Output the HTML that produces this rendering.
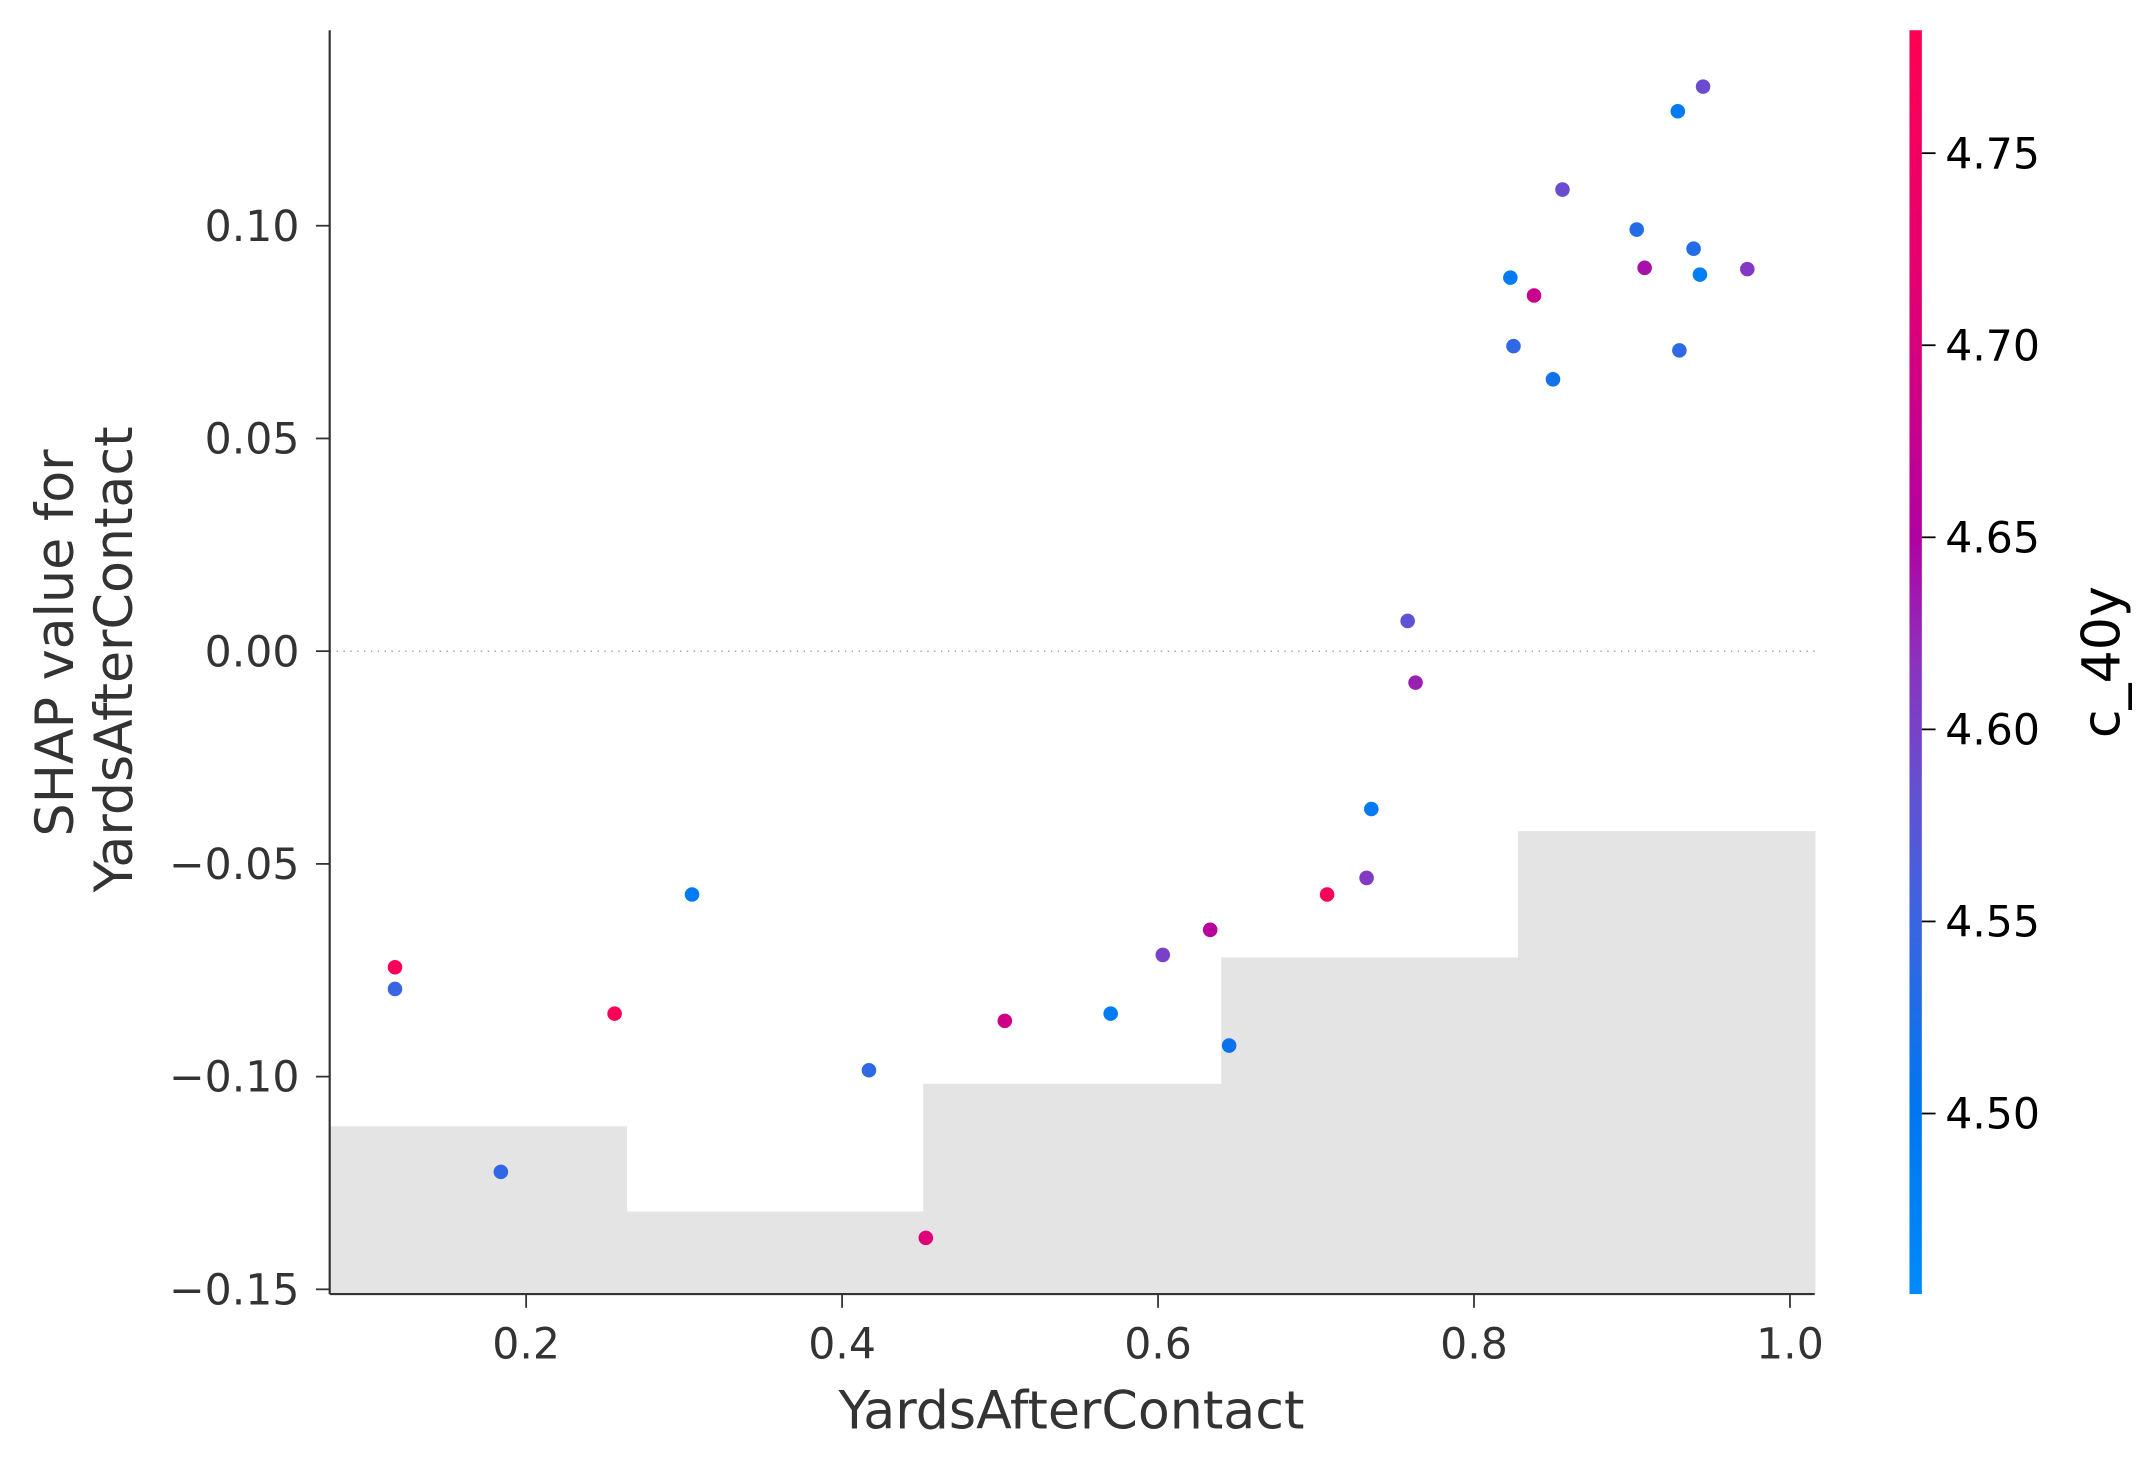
<!DOCTYPE html>
<html><head><meta charset="utf-8"><style>
html,body{margin:0;padding:0;background:#fff;}
svg{display:block;font-family:"DejaVu Sans","Liberation Sans",sans-serif;}
</style></head><body>
<svg id="chart" width="2154" height="1468" viewBox="0 0 1568 1068.6" xmlns="http://www.w3.org/2000/svg">
<g id="hist"></g>
<line x1="240" x2="1321" y1="474" y2="474" stroke="#999" stroke-width="1" stroke-dasharray="1,4"/>
<g id="points"></g>
<line x1="240" x2="240" y1="22" y2="942" stroke="#333" stroke-width="1.6"/>
<line x1="240" x2="1321" y1="942" y2="942" stroke="#333" stroke-width="1.6"/>
<g id="xticks"></g>
<g id="yticks"></g>
<text x="780" y="1040" text-anchor="middle" font-size="38" fill="#333">YardsAfterContact</text>
<text transform="translate(53,468) rotate(-90)" text-anchor="middle" font-size="38" fill="#333">SHAP value for</text>
<text transform="translate(96,480) rotate(-90)" text-anchor="middle" font-size="38" fill="#333">YardsAfterContact</text>
<defs><linearGradient id="cg" x1="0" y1="1" x2="0" y2="0"></linearGradient></defs>
<rect x="1390" y="22" width="9" height="920" fill="url(#cg)"/>
<g id="cticks"></g>
<text transform="translate(1543,482) rotate(-90)" text-anchor="middle" font-size="38" fill="#000">c_40y</text>
</svg>
<script>
const xVals=[0.117,0.117,0.184,0.256,0.305,0.417,0.453,0.503,0.570,0.603,0.633,0.645,0.707,0.732,0.735,0.758,0.763,0.823,0.825,0.838,0.850,0.856,0.903,0.908,0.929,0.930,0.939,0.943,0.945,0.973];
const yVals=[-0.0743,-0.0794,-0.1224,-0.0852,-0.0572,-0.0985,-0.1379,-0.0869,-0.0852,-0.0714,-0.0655,-0.0927,-0.0572,-0.0533,-0.0371,0.0071,-0.0074,0.0878,0.0717,0.0836,0.0639,0.1085,0.0991,0.0901,0.1269,0.0707,0.0946,0.0885,0.1327,0.0898];
const cVals=[4.77,4.55,4.54,4.77,4.49,4.54,4.71,4.69,4.49,4.60,4.66,4.51,4.77,4.61,4.49,4.58,4.63,4.49,4.54,4.68,4.52,4.59,4.53,4.64,4.49,4.54,4.53,4.48,4.59,4.61];
const histEdges=[0.0757,0.2635,0.4513,0.64,0.8278,1.0157];
const histTops=[-0.1117,-0.1317,-0.1017,-0.072,-0.0423];
const xTicks=[0.2,0.4,0.6,0.8,1.0];
const xTickLabels=["0.2","0.4","0.6","0.8","1.0"];
const yTicks=[0.10,0.05,0.00,-0.05,-0.10,-0.15];
const yTickLabels=["0.10","0.05","0.00","\u22120.05","\u22120.10","\u22120.15"];
const cTicks=[4.50,4.55,4.60,4.65,4.70,4.75];
const cTickLabels=["4.50","4.55","4.60","4.65","4.70","4.75"];
const cMin=4.453,cMax=4.782;
const NS="http://www.w3.org/2000/svg";
const sx=v=>153+v*1150, sy=v=>474-v*3097;
const sc=v=>942-(v-cMin)/(cMax-cMin)*920;
const stops=[[0,[0,138,250]],[0.15,[0,118,240]],[0.3,[60,100,225]],[0.4,[100,80,210]],[0.5,[140,50,190]],[0.6,[178,0,162]],[0.8,[228,0,115]],[1,[255,0,82]]];
function cmap(t){t=Math.max(0,Math.min(1,t));for(let i=1;i<stops.length;i++){if(t<=stops[i][0]){const a=stops[i-1],b=stops[i],f=(t-a[0])/(b[0]-a[0]);return 'rgb('+a[1].map((c,k)=>Math.round(c+(b[1][k]-c)*f)).join(',')+')';}}return 'rgb(255,0,82)';}
function mk(tag,attrs,parent){const e=document.createElementNS(NS,tag);for(const k in attrs)e.setAttribute(k,attrs[k]);parent.appendChild(e);return e;}
const grad=document.getElementById('cg');
stops.forEach(s=>mk('stop',{offset:s[0],'stop-color':cmap(s[0])},grad));
const hist=document.getElementById('hist');
for(let i=0;i<histTops.length;i++){
 const r=mk('rect',{x:sx(histEdges[i]),y:sy(histTops[i]),width:sx(histEdges[i+1])-sx(histEdges[i])+0.5,height:942-sy(histTops[i]),fill:'#e4e4e4'},hist);
 
 
}
const pts=document.getElementById('points');
for(let i=0;i<xVals.length;i++){
 const c=mk('circle',{cx:sx(xVals[i]),cy:sy(yVals[i]),r:5.3,fill:cmap((cVals[i]-cMin)/(cMax-cMin))},pts);
 
 
}
const xt=document.getElementById('xticks');
xTicks.forEach((v,i)=>{
 mk('line',{x1:sx(v),x2:sx(v),y1:942,y2:952,stroke:'#333','stroke-width':1.3},xt);
 const t=mk('text',{x:sx(v),y:989,'text-anchor':'middle','font-size':31,fill:'#333'},xt);t.textContent=xTickLabels[i];
 
 
});
const yt=document.getElementById('yticks');
yTicks.forEach((v,i)=>{
 mk('line',{x1:230,x2:240,y1:sy(v),y2:sy(v),stroke:'#333','stroke-width':1.3},yt);
 const t=mk('text',{x:218,y:sy(v)+11,'text-anchor':'end','font-size':31,fill:'#333'},yt);t.textContent=yTickLabels[i];
 
 
});
const ct=document.getElementById('cticks');
cTicks.forEach((v,i)=>{
 mk('line',{x1:1399,x2:1409,y1:sc(v),y2:sc(v),stroke:'#000','stroke-width':1.3},ct);
 const t=mk('text',{x:1416,y:sc(v)+11,'font-size':31,fill:'#000'},ct);t.textContent=cTickLabels[i];
 
 
});
</script>
</body></html>
